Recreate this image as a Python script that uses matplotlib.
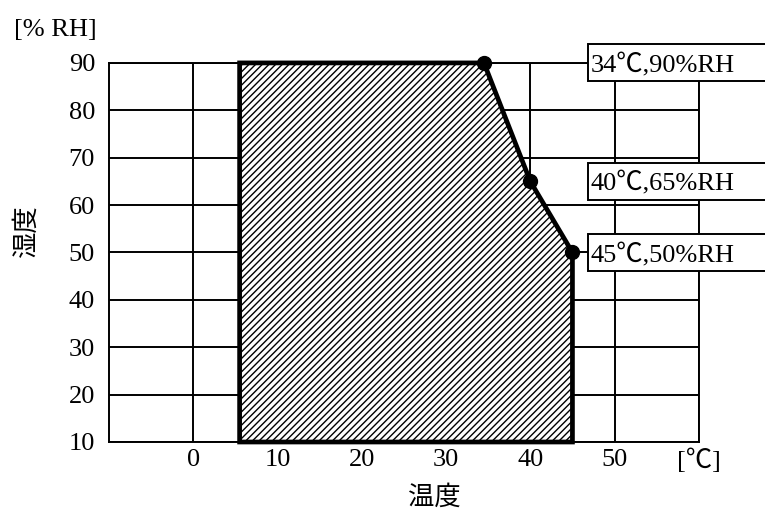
from matplotlib import pyplot as plt
from matplotlib.patches import Polygon, Rectangle

plt.rcParams['font.family'] = ['Liberation Serif', 'Noto Sans CJK JP']

# operating range boundary (temperature, humidity)
zone_temp = [5.5, 5.5, 34.5, 40, 45, 45]
zone_rh = [10, 90, 90, 65, 50, 10]

# corner points with callouts
pt_temp = [34.5, 40, 45]
pt_rh = [90, 65, 50]
pt_labels = ['34℃,90%RH', '40℃,65%RH', '45℃,50%RH']

x_ticks = [0, 10, 20, 30, 40, 50, 60]
x_ticklabels = ['0', '10', '20', '30', '40', '50', '[℃]']
y_ticks = [10, 20, 30, 40, 50, 60, 70, 80, 90]

fs = 19

fig = plt.figure(figsize=(7.65, 5.2), dpi=100)
ax = fig.add_axes([0.1425, 0.15, 0.771, 0.729])

ax.set_xlim(-10, 60)
ax.set_ylim(10, 90)
ax.set_xticks(x_ticks)
ax.set_xticklabels(x_ticklabels, fontsize=fs)
ax.set_yticks(y_ticks)
ax.set_yticklabels([str(v) for v in y_ticks], fontsize=fs)
ax.tick_params(axis='both', length=0)
ax.tick_params(axis='x', pad=5)
ax.tick_params(axis='y', pad=10)

ax.grid(True, color='black', linewidth=1.4)
ax.set_axisbelow(True)
for sp in ax.spines.values():
    sp.set_linewidth(1.4)
    sp.set_zorder(1)

plt.rcParams['hatch.linewidth'] = 1.0
zone = Polygon(list(zip(zone_temp, zone_rh)), closed=True, facecolor='white',
               edgecolor='black', hatch='/////', linewidth=3.4, joinstyle='miter',
               zorder=3, clip_on=False)
ax.add_patch(zone)
ax.plot(pt_temp, pt_rh, 'o', color='black', markersize=10, zorder=4, clip_on=False)

# callout boxes
for y, lab in zip(pt_rh, pt_labels):
    ax.add_patch(Rectangle((46.8, y - 3.9), 21.4, 7.8, facecolor='white',
                           edgecolor='black', linewidth=1.4, zorder=5, clip_on=False))
    ax.text(47.2, y, lab, fontsize=fs, ha='left', va='center_baseline', zorder=6)

ax.text(-0.0915, 1.087, '[% RH]', transform=ax.transAxes, fontsize=fs,
        ha='center', va='center')
ax.text(-0.1407, 0.557, '湿度', transform=ax.transAxes, fontsize=fs,
        ha='center', va='center', rotation=90)
ax.text(0.551, -0.145, '温度', transform=ax.transAxes, fontsize=fs,
        ha='center', va='center')

fig.savefig('out.png', dpi=100)
